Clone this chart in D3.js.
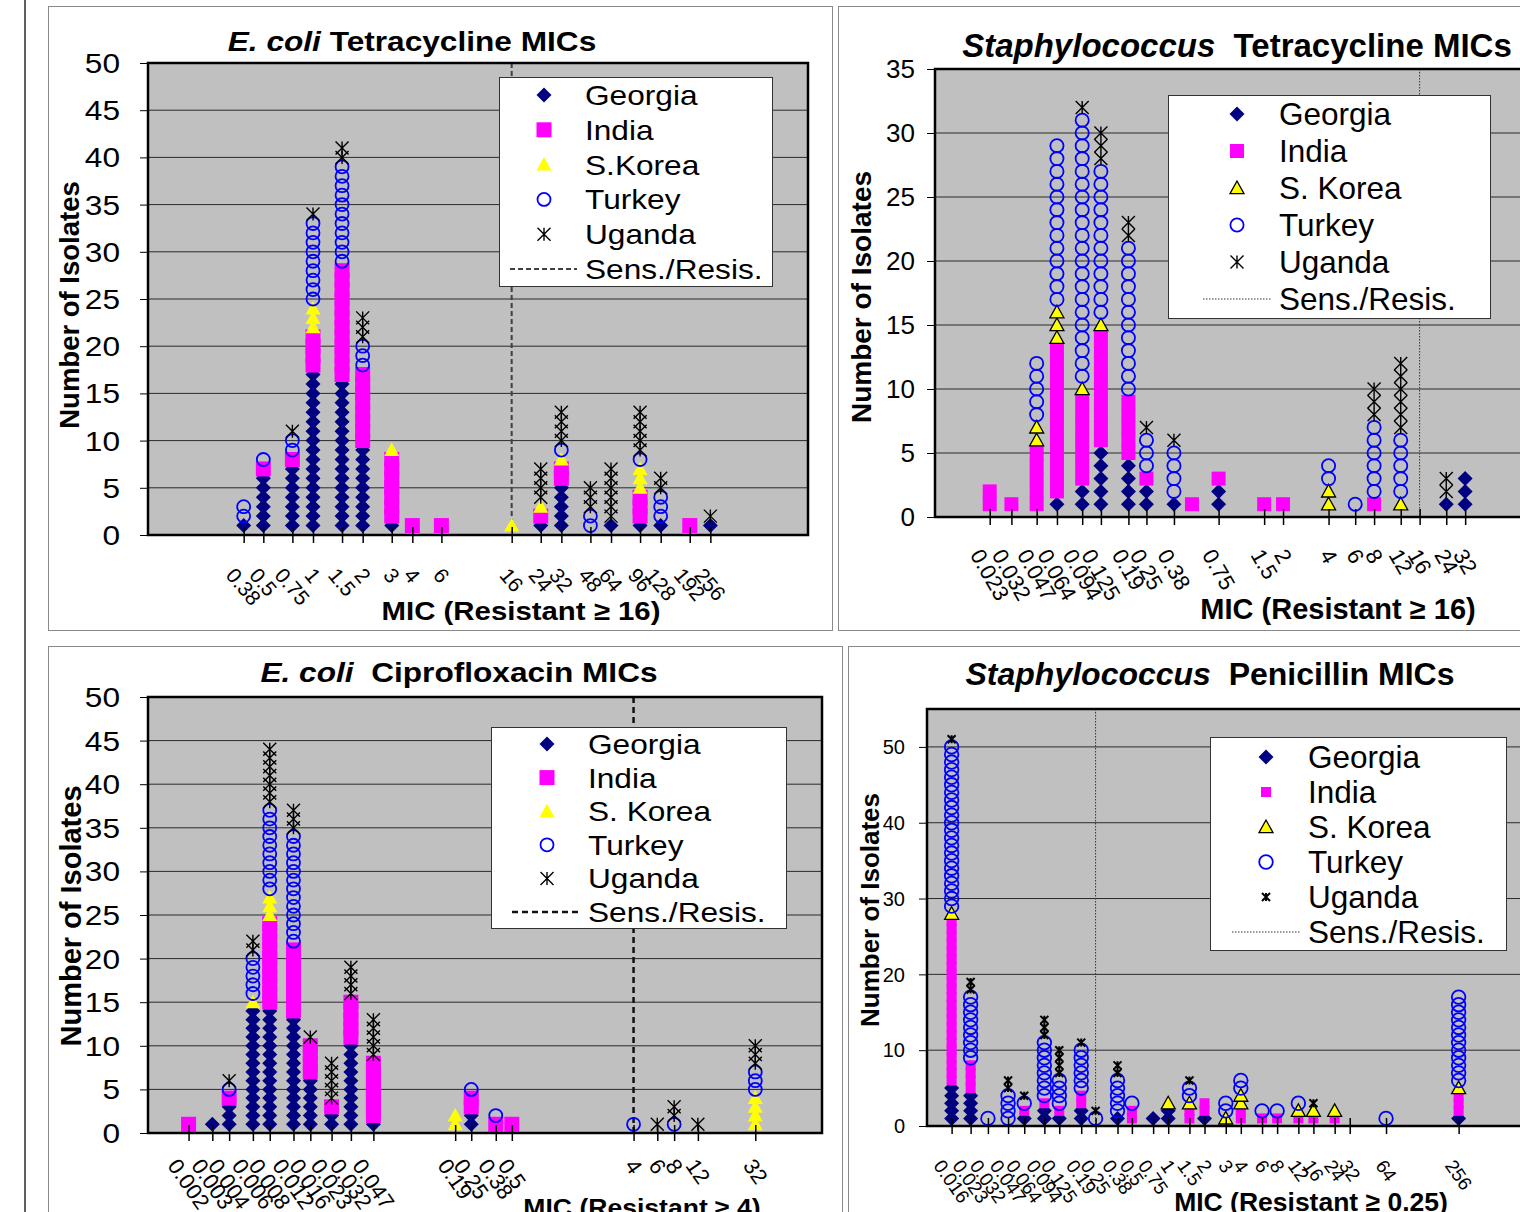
<!DOCTYPE html>
<html lang="en">
<head>
<meta charset="UTF-8">
<title>MIC distributions by country</title>
<script src="https://d3js.org/d3.v7.min.js"></script>
<style>
  body { margin: 0; background: #fff; }
  svg { display: block; font-family: "Liberation Sans", Arial, sans-serif; }
</style>
</head>
<body>
<svg id="chart" width="1520" height="1212"></svg>
<script>
// isolates per MIC value, one array per country (stacked bottom to top in this order)

// E. coli - tetracycline
const ecTetMic     = [0.38, 0.5, 0.75, 1, 1.5, 2, 3, 4, 6, 16, 24, 32, 48, 64, 96, 128, 192, 256];
const ecTetGeorgia = [1, 6, 7, 17, 16, 9, 1, 0, 0, 0, 1, 5, 0, 1, 1, 1, 0, 1];
const ecTetIndia   = [0, 1, 1, 4, 12, 8, 7, 1, 1, 0, 1, 2, 0, 0, 3, 0, 1, 0];
const ecTetKorea   = [0, 0, 0, 3, 0, 0, 1, 0, 0, 1, 1, 1, 0, 0, 3, 0, 0, 0];
const ecTetTurkey  = [2, 1, 2, 9, 11, 3, 0, 0, 0, 0, 0, 1, 2, 0, 1, 3, 0, 0];
const ecTetUganda  = [0, 0, 1, 1, 2, 3, 0, 0, 0, 0, 4, 4, 3, 6, 5, 2, 0, 1];
const ecTetTicks   = [0.38, 0.5, 0.75, 1, 1.5, 2, 3, 4, 6, 16, 24, 32, 48, 64, 96, 128, 192, 256];

// Staphylococcus - tetracycline
const stTetMic     = [0.023, 0.032, 0.047, 0.064, 0.094, 0.125, 0.19, 0.25, 0.38, 0.5, 0.75, 1.5, 2, 4, 6, 8, 12, 24, 32];
const stTetGeorgia = [0, 0, 0, 1, 2, 5, 4, 2, 1, 0, 2, 0, 0, 0, 0, 0, 0, 1, 3];
const stTetIndia   = [2, 1, 5, 12, 7, 9, 5, 1, 0, 1, 1, 1, 1, 0, 0, 1, 0, 0, 0];
const stTetKorea   = [0, 0, 2, 3, 1, 1, 0, 0, 0, 0, 0, 0, 0, 2, 0, 0, 1, 0, 0];
const stTetTurkey  = [0, 0, 5, 13, 21, 12, 12, 3, 4, 0, 0, 0, 0, 2, 1, 6, 5, 0, 0];
const stTetUganda  = [0, 0, 0, 0, 1, 3, 2, 1, 1, 0, 0, 0, 0, 0, 0, 3, 6, 2, 0];
const stTetTicks   = [0.023, 0.032, 0.047, 0.064, 0.094, 0.125, 0.19, 0.25, 0.38, 0.75, 1.5, 2, 4, 6, 8, 12, 16, 24, 32];

// E. coli - ciprofloxacin
const ecCipMic     = [0.002, 0.003, 0.004, 0.006, 0.008, 0.012, 0.016, 0.023, 0.032, 0.047, 0.19, 0.25, 0.38, 0.5, 4, 6, 8, 12, 32];
const ecCipGeorgia = [0, 1, 3, 14, 14, 13, 6, 2, 10, 1, 0, 2, 0, 0, 0, 0, 0, 0, 0];
const ecCipIndia   = [1, 0, 1, 0, 10, 8, 4, 1, 5, 7, 0, 2, 1, 1, 0, 0, 0, 0, 0];
const ecCipKorea   = [0, 0, 0, 1, 3, 0, 0, 0, 0, 0, 2, 0, 0, 0, 0, 0, 0, 0, 4];
const ecCipTurkey  = [0, 0, 1, 5, 10, 13, 0, 0, 0, 0, 0, 1, 1, 0, 1, 0, 1, 0, 3];
const ecCipUganda  = [0, 0, 1, 2, 7, 3, 1, 5, 4, 5, 0, 0, 0, 0, 0, 1, 2, 1, 3];
const ecCipTicks   = [0.002, 0.003, 0.004, 0.006, 0.008, 0.012, 0.016, 0.023, 0.032, 0.047, 0.19, 0.25, 0.38, 0.5, 4, 6, 8, 12, 32];

// Staphylococcus - penicillin
const stPenMic     = [0.016, 0.023, 0.032, 0.047, 0.064, 0.094, 0.125, 0.19, 0.25, 0.38, 0.5, 0.75, 1, 1.5, 2, 3, 4, 6, 8, 12, 16, 24, 64, 256];
const stPenGeorgia = [5, 4, 0, 0, 1, 2, 1, 2, 0, 1, 0, 1, 2, 0, 1, 0, 0, 0, 0, 0, 0, 0, 0, 1];
const stPenIndia   = [22, 4, 0, 0, 1, 1, 1, 2, 0, 0, 2, 0, 0, 2, 2, 0, 2, 1, 1, 1, 1, 1, 0, 3];
const stPenKorea   = [1, 0, 0, 0, 0, 0, 0, 0, 0, 0, 0, 0, 1, 1, 0, 1, 2, 0, 0, 1, 1, 1, 0, 1];
const stPenTurkey  = [22, 9, 1, 4, 1, 8, 4, 6, 1, 5, 1, 0, 0, 2, 0, 2, 2, 1, 1, 1, 0, 0, 1, 12];
const stPenUganda  = [1, 2, 0, 2, 1, 3, 4, 1, 1, 2, 0, 0, 0, 1, 0, 0, 0, 0, 0, 0, 1, 0, 0, 0];
const stPenTicks   = [0.016, 0.023, 0.032, 0.047, 0.064, 0.094, 0.125, 0.19, 0.25, 0.38, 0.5, 0.75, 1, 1.5, 2, 3, 4, 6, 8, 12, 16, 24, 32, 64, 256];

const legendNamesA = ["Georgia", "India", "S.Korea", "Turkey", "Uganda"];
const legendNamesB = ["Georgia", "India", "S. Korea", "Turkey", "Uganda"];

// layout of the four charts
const bigMk   = { d: 7.5, sq: 15, tri: 7.5, triStroke: false, r: 6.5, ast: 6.5, astW: 1.4 };
const staphMk = { d: 7.5, sq: 14, tri: 7, triStroke: true, r: 6.6, ast: 6.5, astW: 1.4 };
const penMk   = { d: 7.5, sq: 10, tri: 7, triStroke: true, r: 6.8, ast: 4, astW: 2 };
const dashed  = { dash: "5,3", w: 2, color: "#404040" };
const dotted  = { dash: "1.5,1.5", w: 1, color: "#333" };

const panels = [
  { title: ["E. coli", " Tetracycline MICs"], xTitle: "MIC (Resistant \u2265 16)",
    mic: ecTetMic, series: [ecTetGeorgia, ecTetIndia, ecTetKorea, ecTetTurkey, ecTetUganda], ticks: ecTetTicks, bp: 16,
    names: legendNamesA, frame: [48, 6, 832, 630], plot: [148, 63, 808, 535], xDomain: [0.1, 1000],
    yMax: 50, yTop: 50, yStep: 5, sx: 1.13,
    titleAt: [412, 51], titleSize: 28, xTitleAt: [521, 620], xTitleSize: 26, yTitleAt: [79, 305], yTitleSize: 27.5,
    yTickSize: 28, yTickGap: 28, tickSize: 21, tickAngle: 50, tickTop: 566,
    legend: { box: [499, 77, 772, 286], y0: 95, dy: 34.8, mx: 544, tx: 585, line: [510, 577], size: 28 },
    mk: bigMk, bpStyle: dashed },
  { title: ["Staphylococcus", "  Tetracycline MICs"], xTitle: "MIC (Resistant \u2265 16)",
    mic: stTetMic, series: [stTetGeorgia, stTetIndia, stTetKorea, stTetTurkey, stTetUganda], ticks: stTetTicks, bp: 16,
    names: legendNamesB, frame: [838, 6, 1540, 630], plot: [935, 69, 1540, 517], xDomain: [0.01, 100],
    yMax: 35, yTop: 35, yStep: 5, sx: 1,
    titleAt: [1237, 57], titleSize: 33, xTitleAt: [1338, 619], xTitleSize: 29, yTitleAt: [871, 297], yTitleSize: 28,
    yTickSize: 26, yTickGap: 20, tickSize: 22, tickAngle: 60, tickTop: 547,
    legend: { box: [1168, 95, 1490, 318], y0: 114, dy: 37, mx: 1237, tx: 1279, line: [1203, 1271], size: 31.5 },
    mk: staphMk, bpStyle: dotted },
  { title: ["E. coli", "  Ciprofloxacin MICs"], xTitle: "MIC (Resistant \u2265 4)",
    mic: ecCipMic, series: [ecCipGeorgia, ecCipIndia, ecCipKorea, ecCipTurkey, ecCipUganda], ticks: ecCipTicks, bp: 4,
    names: legendNamesB, frame: [48, 646, 842, 1240], plot: [148, 697, 822, 1133], xDomain: [0.001, 100],
    yMax: 50, yTop: 50, yStep: 5, sx: 1.13,
    titleAt: [459, 682], titleSize: 28, xTitleAt: [642, 1216], xTitleSize: 23.5, yTitleAt: [81, 916], yTitleSize: 29,
    yTickSize: 28, yTickGap: 28, tickSize: 22, tickAngle: 55, tickTop: 1157,
    legend: { box: [491, 727, 786, 928], y0: 744, dy: 33.6, mx: 547, tx: 588, line: [512, 581], size: 28 },
    mk: bigMk, bpStyle: { dash: "6,4", w: 2.5, color: "#111" } },
  { title: ["Staphylococcus", "  Penicillin MICs"], xTitle: "MIC (Resistant \u2265 0.25)",
    mic: stPenMic, series: [stPenGeorgia, stPenIndia, stPenKorea, stPenTurkey, stPenUganda], ticks: stPenTicks, bp: 0.25,
    names: legendNamesB, frame: [848, 646, 1540, 1240], plot: [927, 709, 1530, 1126], xDomain: [0.01, 1000],
    yMax: 55, yTop: 50, yStep: 10, sx: 1,
    titleAt: [1210, 685], titleSize: 32, xTitleAt: [1311, 1211], xTitleSize: 26.5, yTitleAt: [879, 910], yTitleSize: 26,
    yTickSize: 20, yTickGap: 22, tickSize: 19, tickAngle: 55, tickTop: 1158,
    legend: { box: [1210, 737, 1506, 950], y0: 757, dy: 35, mx: 1266, tx: 1308, line: [1232, 1300], size: 31.5 },
    mk: penMk, bpStyle: dotted }
];

const svg = d3.select("#chart");
const colors = ["#000080", "#ff00ff", "#ffff00", "#0000ff", "#000"];

// page edge line on the far left
svg.append("line").attr("x1", 25).attr("x2", 25).attr("y1", 0).attr("y2", 1212)
  .attr("stroke", "#606060").attr("stroke-width", 2);

function addText(g, x, y, str, o) {
  let tf = `translate(${x},${y})`;
  if (o.rotate) tf += ` rotate(${o.rotate})`;
  if (o.sx && o.sx !== 1) tf += ` scale(${o.sx},1)`;
  const t = g.append("text")
    .attr("transform", tf)
    .attr("font-size", o.size)
    .attr("font-weight", o.bold ? "bold" : null)
    .attr("text-anchor", o.anchor || "start")
    .style("white-space", "pre")
    .text(str);
  if (o.dy) t.attr("dy", o.dy);
  return t;
}

function drawMarker(g, type, x, y, m) {
  if (type === 0) {
    g.append("path")
      .attr("d", `M${x},${y - m.d}L${x + m.d},${y}L${x},${y + m.d}L${x - m.d},${y}Z`)
      .attr("fill", colors[0]);
  } else if (type === 1) {
    g.append("rect").attr("x", x - m.sq / 2).attr("y", y - m.sq / 2)
      .attr("width", m.sq).attr("height", m.sq).attr("fill", colors[1]);
  } else if (type === 2) {
    const h = m.tri;
    g.append("path")
      .attr("d", `M${x},${y - h}L${x + h},${y + 0.8 * h}L${x - h},${y + 0.8 * h}Z`)
      .attr("fill", colors[2])
      .attr("stroke", m.triStroke ? "#000" : "none").attr("stroke-width", 1.3)
      .attr("stroke-linejoin", "miter");
  } else if (type === 3) {
    g.append("circle").attr("cx", x).attr("cy", y).attr("r", m.r)
      .attr("fill", "none").attr("stroke", colors[3]).attr("stroke-width", 1.8);
  } else {
    const s = m.ast;
    g.append("path")
      .attr("d", `M${x - s},${y - s}L${x + s},${y + s}M${x - s},${y + s}L${x + s},${y - s}M${x},${y - s}L${x},${y + s}`)
      .attr("stroke", colors[4]).attr("stroke-width", m.astW).attr("fill", "none");
  }
}

panels.forEach(p => {
  const g = svg.append("g");
  const [px0, py0, px1, py1] = p.plot;

  g.append("rect")
    .attr("x", p.frame[0] + 0.5).attr("y", p.frame[1] + 0.5)
    .attr("width", p.frame[2] - p.frame[0]).attr("height", p.frame[3] - p.frame[1])
    .attr("fill", "#fff").attr("stroke", "#8a8a8a");

  const x = d3.scaleLog().domain(p.xDomain).range([px0, px1]);
  const y = d3.scaleLinear().domain([0, p.yMax]).range([py1, py0]);

  // plot area + gridlines
  g.append("rect").attr("x", px0).attr("y", py0)
    .attr("width", px1 - px0).attr("height", py1 - py0).attr("fill", "#c0c0c0");
  const yTicks = d3.range(0, p.yTop + 0.001, p.yStep);
  g.selectAll("line.grid").data(yTicks.filter(v => v > 0 && v < p.yMax)).join("line")
    .attr("class", "grid")
    .attr("x1", px0).attr("x2", px1)
    .attr("y1", d => y(d)).attr("y2", d => y(d))
    .attr("stroke", "#2a2a2a").attr("stroke-width", 1);

  // sensitive / resistant breakpoint
  g.append("line")
    .attr("x1", x(p.bp)).attr("x2", x(p.bp)).attr("y1", py0).attr("y2", py1)
    .attr("stroke", p.bpStyle.color).attr("stroke-width", p.bpStyle.w)
    .attr("stroke-dasharray", p.bpStyle.dash);

  // one marker per isolate, stacked by country
  const mg = g.append("g");
  p.series.forEach((vals, si) => {
    vals.forEach((n, i) => {
      const base = d3.sum(p.series.slice(0, si), arr => arr[i]);
      for (let k = 1; k <= n; k++) drawMarker(mg, si, x(p.mic[i]), y(base + k), p.mk);
    });
  });

  // y axis
  const yAxis = g.append("g").attr("transform", `translate(${px0},0)`)
    .call(d3.axisLeft(y).tickValues(yTicks).tickSize(8).tickFormat(""));
  yAxis.select(".domain").remove();
  yAxis.selectAll(".tick line").attr("stroke", "#000");
  yTicks.forEach(v => {
    addText(g, px0 - p.yTickGap, y(v), String(v),
      { size: p.yTickSize, sx: p.sx, anchor: "end", dy: "0.36em" });
  });

  // x axis ticks crossing the axis line
  const xAxis = g.append("g").attr("transform", `translate(0,${py1})`)
    .call(d3.axisBottom(x).tickValues(p.ticks).tickSize(8).tickFormat(""));
  xAxis.select(".domain").remove();
  xAxis.selectAll(".tick line").attr("y1", -8).attr("stroke", "#000").attr("stroke-width", 1.5);

  // border
  g.append("rect").attr("x", px0).attr("y", py0)
    .attr("width", px1 - px0).attr("height", py1 - py0)
    .attr("fill", "none").attr("stroke", "#000").attr("stroke-width", 2.5);

  // rotated tick labels
  const a = p.tickAngle * Math.PI / 180;
  p.ticks.forEach(v => {
    const t = g.append("text")
      .attr("font-size", p.tickSize)
      .attr("text-anchor", "middle")
      .attr("dominant-baseline", "central")
      .text(String(v));
    const w = t.node().getComputedTextLength();
    const hh = (w / 2) * Math.sin(a) + p.tickSize * 0.36 * Math.cos(a);
    t.attr("transform", `translate(${x(v)},${p.tickTop + hh}) rotate(${p.tickAngle})`);
  });

  // titles
  const tt = g.append("text")
    .attr("transform", `translate(${p.titleAt[0]},${p.titleAt[1]}) scale(${p.sx},1)`)
    .attr("text-anchor", "middle").attr("font-size", p.titleSize).attr("font-weight", "bold")
    .style("white-space", "pre");
  tt.append("tspan").attr("font-style", "italic").text(p.title[0]);
  tt.append("tspan").text(p.title[1]);

  addText(g, p.xTitleAt[0], p.xTitleAt[1], p.xTitle,
    { size: p.xTitleSize, sx: p.sx, bold: true, anchor: "middle" });
  addText(g, p.yTitleAt[0], p.yTitleAt[1], "Number of Isolates",
    { size: p.yTitleSize, bold: true, anchor: "middle", rotate: -90 });

  // legend
  const L = p.legend;
  const lg = g.append("g");
  lg.append("rect")
    .attr("x", L.box[0] + 0.5).attr("y", L.box[1] + 0.5)
    .attr("width", L.box[2] - L.box[0]).attr("height", L.box[3] - L.box[1])
    .attr("fill", "#fff").attr("stroke", "#333");
  p.names.forEach((name, i) => {
    const cy = L.y0 + i * L.dy;
    drawMarker(lg, i, L.mx, cy, p.mk);
    addText(lg, L.tx, cy, name, { size: L.size, sx: p.sx, dy: "0.36em" });
  });
  const ly = L.y0 + 5 * L.dy;
  lg.append("line").attr("x1", L.line[0]).attr("x2", L.line[1]).attr("y1", ly).attr("y2", ly)
    .attr("stroke", p.bpStyle.color).attr("stroke-width", p.bpStyle.w)
    .attr("stroke-dasharray", p.bpStyle.dash);
  addText(lg, L.tx, ly, "Sens./Resis.", { size: L.size, sx: p.sx, dy: "0.36em" });
});
</script>
</body>
</html>
